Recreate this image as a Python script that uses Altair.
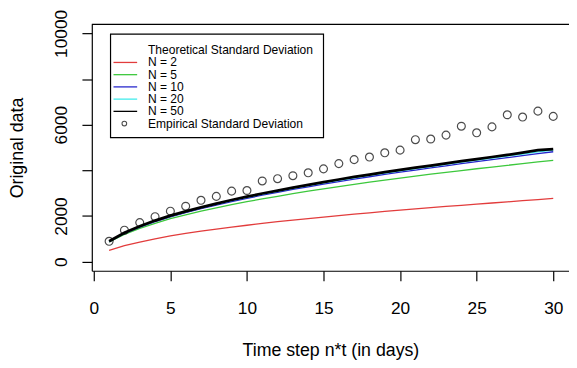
import altair as alt
import pandas as pd

days = list(range(1, 31))

n2 = [490, 700, 860, 1000, 1125, 1235, 1335, 1425, 1515, 1595, 1675, 1750, 1820, 1890, 1955,
      2020, 2080, 2140, 2200, 2255, 2310, 2365, 2420, 2470, 2520, 2570, 2620, 2670, 2720, 2770]
n5 = [860, 1195, 1460, 1680, 1880, 2050, 2210, 2355, 2495, 2625, 2750, 2865, 2980, 3085, 3190,
      3290, 3385, 3480, 3570, 3660, 3745, 3830, 3910, 3990, 4070, 4145, 4220, 4295, 4370, 4440]
n10 = [870, 1233, 1516, 1755, 1965, 2150, 2320, 2481, 2633, 2774, 2910, 3037, 3164, 3281, 3398,
       3510, 3617, 3720, 3822, 3920, 4012, 4105, 4197, 4290, 4383, 4470, 4558, 4641, 4730, 4815]
n20 = [883, 1252, 1540, 1782, 1995, 2183, 2356, 2520, 2673, 2817, 2955, 3084, 3213, 3331, 3450,
       3564, 3673, 3777, 3881, 3980, 4074, 4168, 4262, 4356, 4450, 4539, 4628, 4715, 4805, 4890]
n50 = [892, 1265, 1555, 1800, 2015, 2205, 2380, 2545, 2700, 2845, 2985, 3115, 3245, 3365, 3485,
       3600, 3710, 3815, 3920, 4020, 4115, 4210, 4305, 4400, 4495, 4585, 4675, 4775, 4890, 4935]
empirical = [892, 1379, 1710, 1969, 2212, 2428, 2687, 2859, 3089, 3117, 3534, 3635, 3764, 3893, 4066,
             4296, 4469, 4583, 4770, 4885, 5344, 5373, 5545, 5933, 5646, 5905, 6436, 6336, 6594, 6364]

series_names = ["N = 2", "N = 5", "N = 10", "N = 20", "N = 50"]
series_values = [n2, n5, n10, n20, n50]
series_colors = ["#E23C3C", "#3CC83C", "#2626CC", "#40ECEC", "#000000"]
series_widths = [1.3, 1.3, 1.3, 1.3, 2.8]

legend_labels = ["Theoretical Standard Deviation"] + series_names + ["Empirical Standard Deviation"]

x_ticks = [0, 5, 10, 15, 20, 25, 30]
y_ticks = [0, 2000, 4000, 6000, 8000, 10000]

W, H = 484, 250
FONT = "Liberation Sans"

xscale = alt.Scale(domain=[-0.13, 31.03], nice=False, zero=False)
yscale = alt.Scale(domain=[-400, 10400], nice=False, zero=False)

x_axis = alt.Axis(values=x_ticks, title="Time step n*t (in days)", format="d",
                  tickSize=10, labelFontSize=17.5, labelPadding=19, titleFontSize=18,
                  titleY=81, titleBaseline="middle", labelFlush=False, labelOverlap=False,
                  domainWidth=1.2, tickWidth=1.2)
y_axis = alt.Axis(values=y_ticks, title="Original data", format="d",
                  labelExpr="(datum.value == 4000 || datum.value == 8000) ? '' : datum.label",
                  tickSize=10, labelFontSize=17.5, labelAngle=270, labelAlign="center",
                  labelBaseline="bottom", labelPadding=12, titleFontSize=18,
                  titleX=-75, titleY=H / 2, titleAngle=270, titleAlign="center",
                  titleBaseline="middle", labelOverlap=False, labelFlush=False,
                  domainWidth=1.2, tickWidth=1.2)

X = alt.X("day:Q", scale=xscale, axis=x_axis)

layers = []
for i, (name, vals, col, w) in enumerate(zip(series_names, series_values, series_colors, series_widths)):
    d = pd.DataFrame({"day": days, "value": vals})
    layers.append(
        alt.Chart(d).mark_line(color=col, strokeWidth=w).encode(
            x=X,
            y=alt.Y("value:Q", scale=yscale, axis=y_axis if i == 0 else None),
        )
    )

emp_df = pd.DataFrame({"day": days, "value": empirical})
layers.append(
    alt.Chart(emp_df).mark_point(shape="circle", filled=False, color="black", size=64, strokeWidth=1.2).encode(
        x=X,
        y=alt.Y("value:Q", scale=yscale, axis=None),
    )
)

# top frame line
frame = pd.DataFrame({"a": [0]})
layers.append(
    alt.Chart(frame).mark_rule(color="black", strokeWidth=1.2).encode(
        x=alt.value(0), x2=alt.value(W), y=alt.value(0)
    )
)

# legend
leg_scale = alt.Scale(domain=[0, 6], range=[26.3, 100.7], nice=False, zero=False)
layers.append(
    alt.Chart(frame).mark_rect(fill="white", stroke="black", strokeWidth=1.2).encode(
        x=alt.value(19), x2=alt.value(235), y=alt.value(10), y2=alt.value(115)
    )
)
leg_lines = pd.DataFrame({"row": [1, 2, 3, 4, 5], "label": series_names})
layers.append(
    alt.Chart(leg_lines).mark_rule().encode(
        x=alt.value(22), x2=alt.value(46),
        y=alt.Y("row:Q", scale=leg_scale, axis=None),
        color=alt.Color("label:N", scale=alt.Scale(domain=series_names, range=series_colors), legend=None),
        strokeWidth=alt.StrokeWidth("label:N", scale=alt.Scale(domain=series_names, range=series_widths), legend=None),
    )
)
leg_pt = pd.DataFrame({"row": [6]})
layers.append(
    alt.Chart(leg_pt).mark_point(shape="circle", filled=False, color="black", size=22, strokeWidth=1.1).encode(
        x=alt.value(33), y=alt.Y("row:Q", scale=leg_scale, axis=None)
    )
)
leg_txt = pd.DataFrame({"row": list(range(7)), "label": legend_labels})
layers.append(
    alt.Chart(leg_txt).mark_text(align="left", baseline="middle", font=FONT, fontSize=12.2, color="black").encode(
        x=alt.value(57), y=alt.Y("row:Q", scale=leg_scale, axis=None), text="label:N"
    )
)

chart = alt.layer(*layers).resolve_scale(y="independent", color="independent", strokeWidth="independent").properties(
    width=W, height=H,
    padding={"left": 85, "top": 14, "right": 0, "bottom": 90},
    autosize=alt.AutoSizeParams(type="none"),
).configure_view(stroke=None).configure_axis(
    grid=False, domainColor="black", tickColor="black", labelColor="black", titleColor="black",
    labelFont=FONT, titleFont=FONT, titleFontWeight="normal",
)

chart.save("out.html", embed_options={"renderer": "svg", "actions": False})
